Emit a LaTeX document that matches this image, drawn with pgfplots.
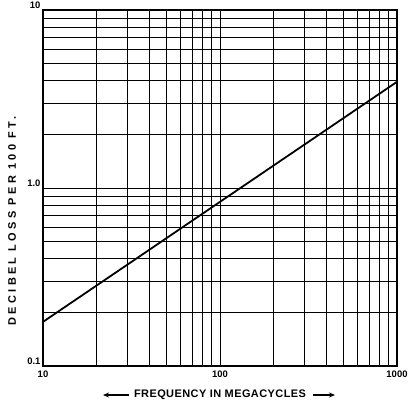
\documentclass[border=0pt]{standalone}
\usepackage{pgfplots}
\pgfplotsset{compat=1.18}
\usepackage{fontspec}
\setmainfont{Liberation Sans}
\newfontfamily\xlfont[LetterSpace=4]{Liberation Sans}
\newfontfamily\ylfont[LetterSpace=30]{Liberation Sans}
\usetikzlibrary{arrows.meta}
\begin{document}
\begin{tikzpicture}
\begin{axis}[
  at={(0,0)}, anchor=south west,
  scale only axis, width=354bp, height=356bp,
  xmode=log, ymode=log,
  xmin=10, xmax=1000, ymin=0.1, ymax=10,
  xtick={10,100,1000}, xticklabels={10,100,1000},
  ytick={0.1,1,10}, yticklabels={0.1,1.0,10},
  minor xtick={20,30,40,50,60,70,80,90,200,300,400,500,600,700,800,900},
  minor ytick={0.2,0.3,0.4,0.5,0.6,0.7,0.8,0.9,2,3,4,5,6,7,8,9},
  grid=both,
  major grid style={black, line width=0.9pt},
  minor grid style={black, line width=0.9pt},
  major tick length=0pt, minor tick length=0pt,
  axis line style={black, line width=1.2pt},
  tick label style={font=\fontsize{9.5}{11}\selectfont\bfseries},
  xticklabel style={yshift=-1pt},
  yticklabel style={yshift=5pt, xshift=1pt},
  xlabel={\xlfont\bfseries FREQUENCY IN MEGACYCLES},
  ylabel={\ylfont\bfseries DECIBEL LOSS PER 100 FT.},
  label style={font=\fontsize{11}{13}\selectfont},
  xlabel style={at={(axis description cs:0.5,0)}, anchor=center, yshift=-29bp},
  ylabel style={at={(axis description cs:0,0.5)}, anchor=center, rotate=0, yshift=31bp, xshift=-33bp},
]
\addplot[black, line width=1.8pt] coordinates {(10,0.177) (1000,3.95)};
\end{axis}
\draw[line width=1.5pt, {Stealth[length=6pt,width=5pt]}-] (60bp,-29bp) -- (86bp,-29bp);
\draw[line width=1.5pt, -{Stealth[length=6pt,width=5pt]}] (270bp,-29bp) -- (292bp,-29bp);
\pgfresetboundingbox
\path[use as bounding box] (-43bp,-38bp) rectangle (368bp,366bp);
\end{tikzpicture}
\end{document}
